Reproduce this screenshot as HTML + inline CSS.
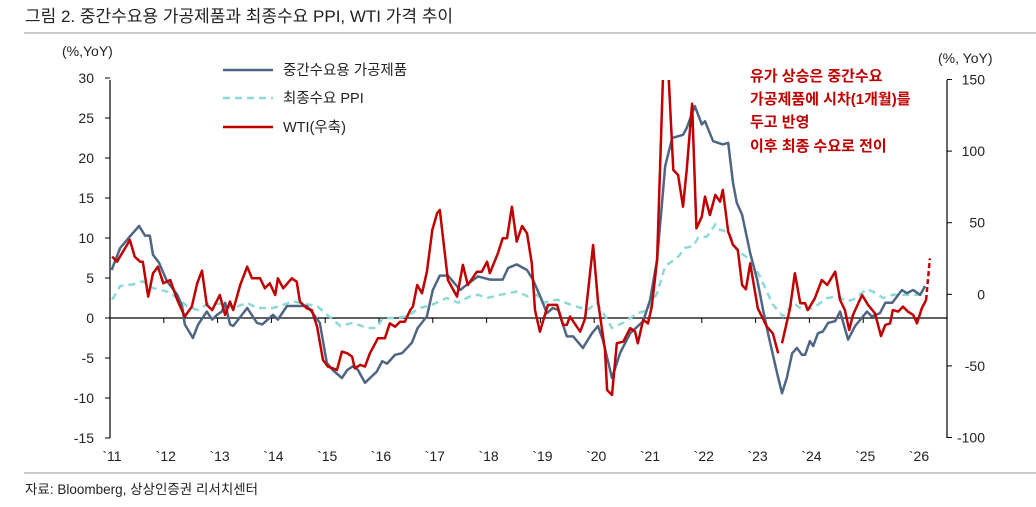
<!DOCTYPE html>
<html><head><meta charset="utf-8"><style>
body{margin:0;background:#fff;}
svg text{font-family:"Liberation Sans","Noto Sans CJK KR",sans-serif;}
</style></head><body>
<svg width="1036" height="502" viewBox="0 0 1036 502" xmlns="http://www.w3.org/2000/svg">
<text x="25" y="22" font-size="17" fill="#222">그림 2. 중간수요용 가공제품과 최종수요 PPI, WTI 가격 추이</text>
<line x1="24" y1="33" x2="1036" y2="33" stroke="#999" stroke-width="1"/>
<line x1="24" y1="473" x2="1036" y2="473" stroke="#999" stroke-width="1"/>
<text x="25" y="494" font-size="13.5" fill="#222">자료: Bloomberg, 상상인증권 리서치센터</text>
<text x="62" y="56" font-size="14" fill="#222">(%,YoY)</text>
<text x="938" y="63" font-size="14" fill="#222">(%, YoY)</text>
<g id="axes"></g>
<g id="series"></g>
<g>
<line x1="223" y1="70" x2="273" y2="70" stroke="#4f6584" stroke-width="2.5"/>
<text x="283" y="75" font-size="14.5" fill="#222">중간수요용 가공제품</text>
<line x1="223" y1="98" x2="273" y2="98" stroke="#8ed8d8" stroke-width="2.5" stroke-dasharray="7,5"/>
<text x="283" y="103" font-size="14.5" fill="#222">최종수요 PPI</text>
<line x1="223" y1="127" x2="273" y2="127" stroke="#c00000" stroke-width="2.5"/>
<text x="283" y="132" font-size="14.5" fill="#222">WTI(우축)</text>
</g>
<g font-size="15" fill="#c00000" font-weight="bold">
<text x="750" y="81">유가 상승은 중간수요</text>
<text x="750" y="104">가공제품에 시차(1개월)를</text>
<text x="750" y="127">두고 반영</text>
<text x="750" y="151">이후 최종 수요로 전이</text>
</g>
</svg>
<script>
const years=["`11","`12","`13","`14","`15","`16","`17","`18","`19","`20","`21","`22","`23","`24","`25","`26"];
const leftTicks=[30,25,20,15,10,5,0,-5,-10,-15];
const rightTicks=[150,100,50,0,-50,-100];
const midDates=[2011.03,2011.19,2011.37,2011.54,2011.65,2011.74,2011.80,2011.91,2012.06,2012.25,2012.34,2012.39,2012.54,2012.64,2012.80,2012.90,2012.99,2013.08,2013.14,2013.23,2013.29,2013.55,2013.73,2013.83,2014.03,2014.12,2014.29,2014.40,2014.53,2014.66,2014.77,2014.90,2015.03,2015.14,2015.31,2015.41,2015.52,2015.61,2015.74,2015.96,2016.06,2016.15,2016.30,2016.43,2016.61,2016.72,2016.89,2017.00,2017.13,2017.28,2017.51,2017.64,2017.84,2018.06,2018.30,2018.40,2018.56,2018.75,2018.86,2018.99,2019.12,2019.23,2019.33,2019.49,2019.61,2019.79,2019.96,2020.07,2020.16,2020.33,2020.48,2020.67,2020.91,2021.04,2021.17,2021.32,2021.45,2021.65,2021.72,2021.87,2022.00,2022.06,2022.21,2022.39,2022.49,2022.58,2022.65,2022.75,2022.90,2023.03,2023.14,2023.23,2023.40,2023.49,2023.58,2023.68,2023.77,2023.86,2023.92,2024.01,2024.07,2024.16,2024.25,2024.35,2024.48,2024.57,2024.72,2024.85,2025.07,2025.16,2025.31,2025.41,2025.54,2025.72,2025.81,2025.93,2026.06,2026.15];
const midValues=[6.0,8.75,10.2,11.5,10.3,10.3,7.9,6.9,4.6,2.9,1.5,-0.8,-2.5,-0.8,0.8,-0.2,0.4,0.8,1.9,-0.8,-1.0,1.25,-0.6,-0.8,0.4,-0.2,1.5,1.5,1.5,1.5,0.6,-0.6,-5.6,-6.5,-7.5,-6.5,-6,-6.5,-8.1,-6.7,-5.4,-5.7,-4.6,-4.4,-3.1,-1.25,0.2,3.5,5.3,5.3,3.5,4.2,5.2,4.8,4.8,6.25,6.7,6.0,4.8,2.8,0.6,1.25,1.0,-2.3,-2.3,-3.75,-1.9,-1.0,-2.7,-7.5,-4.4,-1.9,-0.4,2.3,7.3,19,22.5,22.9,23.75,26.5,24.2,24.6,22.1,21.7,21.9,16.9,14.4,12.9,8.1,4.8,1.0,-1.9,-6.9,-9.4,-7.5,-4.4,-3.75,-4.6,-4.6,-2.9,-3.5,-1.9,-1.7,-0.6,-0.4,0.8,-2.7,-1.0,0.8,0.2,0.6,1.9,1.9,3.5,3.1,3.5,2.9,4.0];
const ppiDates=[2011.04,2011.19,2011.43,2011.61,2011.80,2012.06,2012.25,2012.43,2012.62,2012.86,2013.10,2013.29,2013.55,2013.73,2014.03,2014.16,2014.40,2014.66,2014.85,2015.00,2015.28,2015.52,2015.78,2015.96,2016.07,2016.26,2016.52,2016.76,2017.00,2017.26,2017.47,2017.69,2017.84,2018.01,2018.25,2018.56,2018.77,2018.94,2019.05,2019.31,2019.55,2019.87,2020.05,2020.33,2020.54,2020.81,2021.00,2021.17,2021.32,2021.54,2021.69,2021.84,2021.93,2022.10,2022.25,2022.34,2022.49,2022.65,2022.90,2023.08,2023.32,2023.51,2023.70,2023.88,2024.07,2024.33,2024.51,2024.70,2024.81,2025.07,2025.18,2025.37,2025.55,2025.81,2026.15];
const ppiValues=[2.3,4.0,4.2,4.6,3.75,3.3,2.5,1.5,1.0,1.9,1.7,1.25,1.9,1.25,1.25,1.5,2.1,1.7,1.5,0.6,-1.0,-0.6,-1.25,-1.25,0,0,0.2,1.25,1.7,2.5,1.9,2.7,2.9,2.5,2.9,3.3,2.7,2.9,1.9,2.3,1.7,1.0,1.9,-1.25,-0.6,0.6,1.0,3.1,6.5,7.5,8.75,9.0,10,10.2,11.7,11.0,10.8,8.5,7.3,5.2,1.7,0.2,1.9,1.0,1.25,2.5,2.7,2.1,2.3,3.6,3.3,2.5,2.9,2.9,2.9];
const wtiDates=[2011.04,2011.13,2011.37,2011.46,2011.56,2011.61,2011.71,2011.80,2011.89,2011.99,2012.12,2012.25,2012.39,2012.52,2012.62,2012.71,2012.80,2012.90,2013.04,2013.14,2013.23,2013.29,2013.42,2013.55,2013.64,2013.79,2013.88,2013.97,2014.07,2014.12,2014.22,2014.38,2014.47,2014.53,2014.66,2014.75,2014.85,2014.96,2015.05,2015.22,2015.31,2015.41,2015.50,2015.55,2015.65,2015.74,2015.83,2015.98,2016.11,2016.20,2016.30,2016.39,2016.48,2016.58,2016.63,2016.71,2016.80,2016.89,2016.99,2017.08,2017.13,2017.28,2017.45,2017.56,2017.65,2017.82,2017.91,2018.01,2018.06,2018.21,2018.30,2018.38,2018.47,2018.56,2018.66,2018.75,2018.84,2018.90,2018.99,2019.14,2019.31,2019.42,2019.49,2019.55,2019.74,2019.83,2019.98,2020.07,2020.20,2020.24,2020.33,2020.42,2020.54,2020.67,2020.76,2020.81,2020.91,2021.00,2021.07,2021.17,2021.32,2021.47,2021.56,2021.65,2021.72,2021.82,2021.90,2022.00,2022.06,2022.15,2022.25,2022.34,2022.39,2022.49,2022.58,2022.67,2022.75,2022.82,2022.90,2023.04,2023.21,2023.32,2023.42,2023.45,2023.49,2023.64,2023.73,2023.83,2023.92,2023.97,2024.10,2024.23,2024.33,2024.48,2024.57,2024.66,2024.74,2024.81,2024.98,2025.09,2025.22,2025.33,2025.41,2025.50,2025.55,2025.65,2025.74,2025.83,2025.93,2026.00,2026.09,2026.17];
const wtiValues=[26.3,22.8,37.9,26.3,22.8,22.8,-1.6,14.7,19.3,7.7,10,-4,-15.6,-8.6,7.7,16.5,-7.4,-11,-0.5,-14.4,-5.1,-11,6.5,19.3,11.2,11.2,4.2,7.7,-0.5,11.2,4.2,11.2,8.8,-5.1,-9.8,-11,-22.6,-45.9,-50.5,-52.8,-40,-41.2,-43.5,-51.7,-49.3,-50.5,-41.2,-30.7,-30.7,-20.3,-22.6,-19.1,-19.1,-11,-8.6,6.5,0.7,15.8,44.9,56.6,58.9,10,-1.6,20.5,6.5,15.8,15.8,22.8,14.7,28.6,39.1,39.1,61.2,36.8,47.7,42.6,21.6,-11,-26.1,-7.4,-7.4,-21.4,-21.4,-15.6,-26.1,-16.8,34.4,-5.1,-38.9,-66.8,-70.3,-34.2,-33,-23.7,-26.1,-34.2,-17.9,-20.3,-8.6,24,200,86.8,83.3,61.2,86.8,133,46.1,54.2,68.2,55.4,69.4,64.7,72.9,43.8,34.4,31,6.5,3.5,21.6,-9.8,-22.6,-27.2,-41.2,null,-34.2,-9.8,14.7,-6.3,-6.3,-11,-2.8,10,6.5,15.8,-4,-11,-24.9,-14.4,-0.5,-7.4,-13.3,-29.1,-21.4,-20.3,-11,-12.1,-8.6,-12.1,-14.4,-20.3,-9.8,-4];
const wtiProjDates=[2026.17,2026.24];
const wtiProjValues=[-4,25.1];

const NS="http://www.w3.org/2000/svg";
const X0=110,X1=947;
function xs(t){return X0+(t-2011)*53.8;}
function yl(v){return 318-8*v;}
function yr(v){return 294.3-1.432*v;}
function mk(tag,attrs,parent){const e=document.createElementNS(NS,tag);for(const k in attrs)e.setAttribute(k,attrs[k]);parent.appendChild(e);return e;}
const ax=document.getElementById('axes');
const se=document.getElementById('series');
let e;
e=mk('line',{x1:X0,y1:80,x2:X0,y2:438,stroke:'#000','stroke-width':1.2},ax);


e=mk('line',{x1:X1,y1:80,x2:X1,y2:438,stroke:'#000','stroke-width':1.2},ax);


e=mk('line',{x1:X0,y1:yl(0),x2:X1,y2:yl(0),stroke:'#000','stroke-width':1.2},ax);


leftTicks.forEach(v=>{
  mk('line',{x1:X0-5,y1:yl(v),x2:X0,y2:yl(v),stroke:'#000'},ax);
  e=mk('text',{x:94,y:yl(v)+5,'font-size':14,'text-anchor':'end',fill:'#222'},ax);
  e.textContent=v;
  
  
});
rightTicks.forEach(v=>{
  mk('line',{x1:X1,y1:yr(v),x2:X1+5,y2:yr(v),stroke:'#000'},ax);
  e=mk('text',{x:985,y:yr(v)+5,'font-size':14,'text-anchor':'end',fill:'#222'},ax);
  e.textContent=v;
  
  
});
years.forEach((lab,i)=>{
  const x=xs(2011+i);
  if(i>0) mk('line',{x1:x,y1:yl(0),x2:x,y2:yl(0)+5,stroke:'#000'},ax);
  e=mk('text',{x:x+2,y:461,'font-size':14,'text-anchor':'middle',fill:'#222'},ax);
  e.textContent=lab;
  
  
});
const cp=mk('clipPath',{id:'plotclip'},se);
mk('rect',{x:X0,y:80,width:X1-X0,height:358},cp);
function path(dates,vals,yf){
  let d='',pen=false;
  dates.forEach((t,i)=>{const v=vals[i];if(v===null){pen=false;return;}d+=(pen?'L':'M')+xs(t).toFixed(1)+','+yf(v).toFixed(1);pen=true;});
  return d;
}
e=mk('path',{d:path(ppiDates,ppiValues,yl),fill:'none',stroke:'#8ed8d8','stroke-width':2.5,'stroke-dasharray':'7,5','clip-path':'url(#plotclip)'},se);


e=mk('path',{d:path(midDates,midValues,yl),fill:'none',stroke:'#4f6584','stroke-width':2.5,'stroke-linejoin':'round','clip-path':'url(#plotclip)'},se);


e=mk('path',{d:path(wtiDates,wtiValues,yr),fill:'none',stroke:'#c00000','stroke-width':2.5,'stroke-linejoin':'round','clip-path':'url(#plotclip)'},se);


e=mk('path',{d:path(wtiProjDates,wtiProjValues,yr),fill:'none',stroke:'#c00000','stroke-width':2.5,'stroke-dasharray':'5,3'},se);


</script>
</body></html>
